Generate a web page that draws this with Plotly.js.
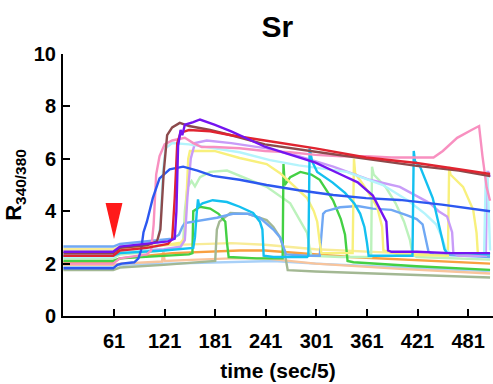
<!DOCTYPE html>
<html>
<head>
<meta charset="utf-8">
<script src="https://cdn.plot.ly/plotly-3.0.1.min.js"></script>
<style>html,body{margin:0;padding:0;background:#fff;}#chart{width:493px;height:384px;}</style>
</head>
<body>
<div id="chart"></div>
<script>
// ---- data (time in frames of 5 s, ratio R340/380) ----
const xTickVals = [61, 121, 181, 241, 301, 361, 421, 481];
const yTickVals = [0, 2, 4, 6, 8, 10];

const paleBlueT = [1, 60, 68, 120, 200, 250, 300, 400, 507];
const paleBlueR = [1.9, 1.9, 1.95, 2.0, 2.05, 2.1, 2.0, 1.85, 1.72];

const peachT = [1, 60, 68, 110, 118, 119.5, 121, 160, 200, 240, 300, 400, 507];
const peachR = [1.95, 1.95, 2.0, 2.05, 2.08, 2.5, 2.1, 2.15, 2.2, 2.2, 2.0, 1.8, 1.62];

const orangeT = [1, 60, 68, 100, 130, 210, 240, 341, 415, 507];
const orangeR = [2.05, 2.05, 2.2, 2.3, 2.4, 2.5, 2.5, 2.25, 2.13, 2.0];

const paleYellowT = [1, 60, 68, 120, 160, 200, 240, 300, 400, 507];
const paleYellowR = [2.55, 2.55, 2.65, 2.7, 2.75, 2.78, 2.72, 2.55, 2.4, 2.3];

const sageT = [1, 60, 68, 120, 181, 183, 186, 199, 220, 242, 250, 258, 263, 265, 267, 300, 400, 507];
const sageR = [1.75, 1.75, 1.85, 1.95, 2.1, 3.3, 3.6, 3.93, 3.9, 3.66, 3.4, 3.0, 2.5, 2.1, 1.75, 1.7, 1.6, 1.47];

const lightGreenT = [1, 60, 68, 120, 140, 143, 145, 148, 153, 157, 163, 175, 195, 242, 270, 290, 293, 295, 330, 366, 367, 369, 383, 395, 405, 412, 415, 420, 507];
const lightGreenR = [2.2, 2.2, 2.35, 2.5, 2.65, 2.8, 4.0, 4.9, 5.15, 4.95, 5.3, 5.5, 5.55, 4.93, 4.3, 3.17, 2.6, 2.3, 2.25, 2.25, 5.7, 5.4, 4.93, 4.3, 3.6, 2.9, 2.35, 2.25, 2.15];

const greenT = [1, 60, 68, 120, 150, 154, 155, 163, 175, 185, 193, 195, 197, 230, 261, 262, 263.5, 270, 282, 295, 305, 321, 330, 335, 338, 345, 420, 507];
const greenR = [2.1, 2.1, 2.2, 2.3, 2.35, 2.4, 4.0, 4.17, 4.1, 3.9, 3.6, 2.8, 2.25, 2.2, 2.2, 5.8, 5.0, 5.3, 5.5, 5.4, 5.2, 4.4, 3.7, 3.1, 2.1, 2.05, 1.9, 1.76];

const cornflowerT = [1, 60, 68, 100, 130, 138, 142, 145, 163, 183, 202, 220, 234, 250, 258, 262, 265, 290, 305, 309, 312, 329, 350, 368, 390, 408, 420, 427, 431, 434, 440, 480, 507];
const cornflowerR = [2.65, 2.65, 2.75, 2.85, 2.95, 3.1, 3.4, 3.55, 3.65, 3.75, 3.9, 3.9, 3.75, 3.3, 3.0, 2.6, 2.35, 2.3, 2.3, 3.9, 4.0, 4.15, 4.2, 4.1, 4.05, 3.85, 3.7, 3.5, 2.9, 2.45, 2.35, 2.3, 2.25];

const yellowT = [1, 60, 68, 120, 140, 145, 147, 149, 151, 180, 210, 242, 258, 280, 290, 298, 302, 305, 307, 320, 344, 345.6, 347, 361, 373, 379, 380.5, 400, 457, 458.5, 460, 475, 487, 491, 492.5, 507];
const yellowR = [2.45, 2.45, 2.6, 2.7, 2.8, 3.0, 4.5, 6.0, 6.3, 6.3, 6.03, 5.8, 5.45, 4.8, 4.5, 4.0, 3.6, 2.8, 2.4, 2.4, 2.4, 6.0, 5.45, 4.8, 4.17, 3.4, 2.5, 2.35, 2.3, 5.7, 5.4, 4.93, 4.05, 3.17, 2.4, 2.35];

const lavenderT = [1, 60, 68, 120, 140, 145, 148, 152, 157, 171, 200, 242, 280, 321, 364, 400, 436, 446, 456, 462, 463.5, 470, 502, 503.5, 505, 507];
const lavenderR = [2.3, 2.3, 2.45, 2.55, 2.65, 2.9, 4.5, 6.0, 6.6, 6.7, 6.6, 6.4, 6.1, 5.7, 5.2, 4.93, 4.3, 4.0, 3.8, 3.2, 2.4, 2.3, 2.3, 5.5, 5.5, 5.3];

const lightCyanT = [1, 60, 68, 100, 112, 116, 119, 122, 130, 150, 180, 210, 246, 280, 337, 380, 410, 430, 443, 450, 455, 460, 500, 502, 504, 507];
const lightCyanR = [2.25, 2.25, 2.45, 2.55, 2.65, 3.5, 5.5, 6.4, 6.6, 6.55, 6.4, 6.25, 5.95, 5.75, 5.5, 5.0, 4.4, 3.9, 3.5, 3.0, 2.5, 2.4, 2.4, 5.5, 5.4, 2.5];

const cyanT = [1, 60, 68, 120, 155, 157, 159, 160.6, 162, 166, 178, 195, 210, 226, 234, 237, 238.5, 250, 290, 291.5, 293, 296, 302, 320, 335, 346, 353, 358, 361, 363, 415, 416.5, 418, 424, 439, 447, 451, 453, 456, 480, 507];
const cyanR = [2.3, 2.3, 2.4, 2.5, 2.6, 3.0, 3.9, 4.45, 4.2, 4.3, 4.42, 4.35, 4.17, 3.93, 3.6, 3.3, 2.3, 2.25, 2.25, 2.3, 6.4, 5.9, 5.5, 5.1, 4.7, 4.3, 3.9, 3.4, 2.8, 2.3, 2.3, 6.3, 5.9, 5.7, 4.5, 3.4, 2.9, 2.55, 2.4, 2.4, 2.35];

const pinkT = [1, 60, 68, 100, 105, 108, 111, 115, 121, 130, 145, 155, 165, 180, 210, 240, 270, 300, 330, 360, 390, 420, 440, 451, 468, 485, 494, 498, 503, 507];
const pinkR = [2.0, 2.0, 2.2, 2.35, 2.5, 3.5, 5.4, 6.1, 6.55, 6.7, 6.8, 6.6, 6.45, 6.45, 6.4, 6.3, 6.25, 6.15, 6.1, 6.1, 6.05, 6.05, 6.05, 6.3, 6.8, 7.1, 7.25, 6.1, 4.9, 4.4];

const blueT = [1, 60, 65, 70, 85, 90, 93, 96, 100, 107, 115, 127, 143, 160, 178, 210, 242, 280, 321, 360, 400, 450, 507];
const blueR = [1.82, 1.82, 1.95, 2.0, 2.05, 2.2, 2.5, 3.2, 3.6, 4.5, 5.25, 5.6, 5.7, 5.55, 5.35, 5.2, 5.0, 4.8, 4.62, 4.5, 4.43, 4.25, 4.0];

const brownT = [1, 60, 68, 100, 112, 116, 120, 124, 130, 139, 150, 175, 200, 240, 300, 360, 420, 470, 507];
const brownR = [2.4, 2.4, 2.6, 2.7, 2.85, 3.3, 5.5, 6.9, 7.2, 7.37, 7.25, 7.1, 6.9, 6.55, 6.27, 6.0, 5.73, 5.55, 5.34];

const redT = [1, 60, 68, 100, 125, 130, 133, 136, 140, 150, 175, 200, 240, 300, 360, 420, 470, 507];
const redR = [2.3, 2.3, 2.5, 2.6, 2.75, 2.95, 4.5, 6.6, 7.0, 7.1, 7.05, 6.9, 6.7, 6.4, 6.05, 5.84, 5.6, 5.42];

const purpleT = [1, 60, 68, 100, 125, 133, 135, 137, 140, 142, 145, 155, 163, 180, 200, 240, 270, 300, 330, 350, 368, 378, 384, 386, 390, 420, 460, 507];
const purpleR = [2.45, 2.45, 2.65, 2.75, 2.85, 2.95, 4.0, 6.5, 7.1, 6.9, 7.3, 7.4, 7.5, 7.3, 7.05, 6.46, 6.15, 5.85, 5.4, 5.1, 4.6, 4.0, 3.6, 2.5, 2.45, 2.45, 2.4, 2.4];

// stimulus marker (red arrowhead above baseline at stimulation time)
const stimulusT = 61;
const arrowTopR = 4.31;
const arrowTipR = 2.94;
const arrowHalfWidthT = 10;

const seriesList = [
  {t: paleBlueT, r: paleBlueR, color: '#a8d0f8'},
  {t: peachT, r: peachR, color: '#f8c49c'},
  {t: orangeT, r: orangeR, color: '#f8a040'},
  {t: paleYellowT, r: paleYellowR, color: '#f8ec98'},
  {t: sageT, r: sageR, color: '#a3b893'},
  {t: lightGreenT, r: lightGreenR, color: '#bcf2bc'},
  {t: greenT, r: greenR, color: '#44d044'},
  {t: cornflowerT, r: cornflowerR, color: '#70a8f4'},
  {t: yellowT, r: yellowR, color: '#f8f07c'},
  {t: lavenderT, r: lavenderR, color: '#c89cf8'},
  {t: lightCyanT, r: lightCyanR, color: '#b4f4fc'},
  {t: cyanT, r: cyanR, color: '#14c0f0'},
  {t: pinkT, r: pinkR, color: '#f890c0'},
  {t: blueT, r: blueR, color: '#2c58f0'},
  {t: brownT, r: brownR, color: '#8c4a4c'},
  {t: redT, r: redR, color: '#e02430'},
  {t: purpleT, r: purpleR, color: '#7414f0'}
];

const traces = seriesList.map(s => ({
  type: 'scatter', mode: 'lines', x: s.t, y: s.r,
  line: {color: s.color, width: 2.4}, hoverinfo: 'skip', showlegend: false
}));

const fontFam = 'Liberation Sans, Arial, sans-serif';
const layout = {
  width: 493, height: 384,
  margin: {l: 63, r: 0, t: 54, b: 68},
  paper_bgcolor: '#fff', plot_bgcolor: '#fff',
  showlegend: false,
  title: {text: 'Sr', font: {family: fontFam, size: 30, weight: 'bold', color: '#000'},
          x: 0.5625, xanchor: 'center', xref: 'container', y: 0.93, yanchor: 'middle', yref: 'container'},
  xaxis: {
    range: [0.5, 510.5], tickvals: xTickVals, ticktext: xTickVals.map(String),
    ticks: 'inside', ticklen: 7, tickwidth: 2, tickcolor: '#000',
    showline: true, linewidth: 2, linecolor: '#000',
    showgrid: false, zeroline: false, ticklabelstandoff: 6,
    tickfont: {family: fontFam, size: 20, weight: 'bold', color: '#000'},
    title: {text: 'time (sec/5)', font: {family: fontFam, size: 21, weight: 'bold', color: '#000'}, standoff: 12}
  },
  yaxis: {
    range: [0, 10], tickvals: yTickVals,
    ticks: 'inside', ticklen: 7, tickwidth: 2, tickcolor: '#000',
    showline: true, linewidth: 2, linecolor: '#000',
    showgrid: false, zeroline: false, ticklabelstandoff: 1,
    tickfont: {family: fontFam, size: 20, weight: 'bold', color: '#000'},
    title: {text: 'R<sub>340/380</sub>', font: {family: fontFam, size: 22, weight: 'bold', color: '#000'}, standoff: 6}
  },
  shapes: [{
    type: 'path', xref: 'x', yref: 'y', layer: 'above',
    path: 'M ' + (stimulusT - arrowHalfWidthT) + ',' + arrowTopR +
          ' L ' + (stimulusT + arrowHalfWidthT) + ',' + arrowTopR +
          ' L ' + stimulusT + ',' + arrowTipR + ' Z',
    fillcolor: '#ff1a1a', line: {width: 0}
  }]
};

Plotly.newPlot('chart', traces, layout, {staticPlot: true, displayModeBar: false});
</script>
</body>
</html>
